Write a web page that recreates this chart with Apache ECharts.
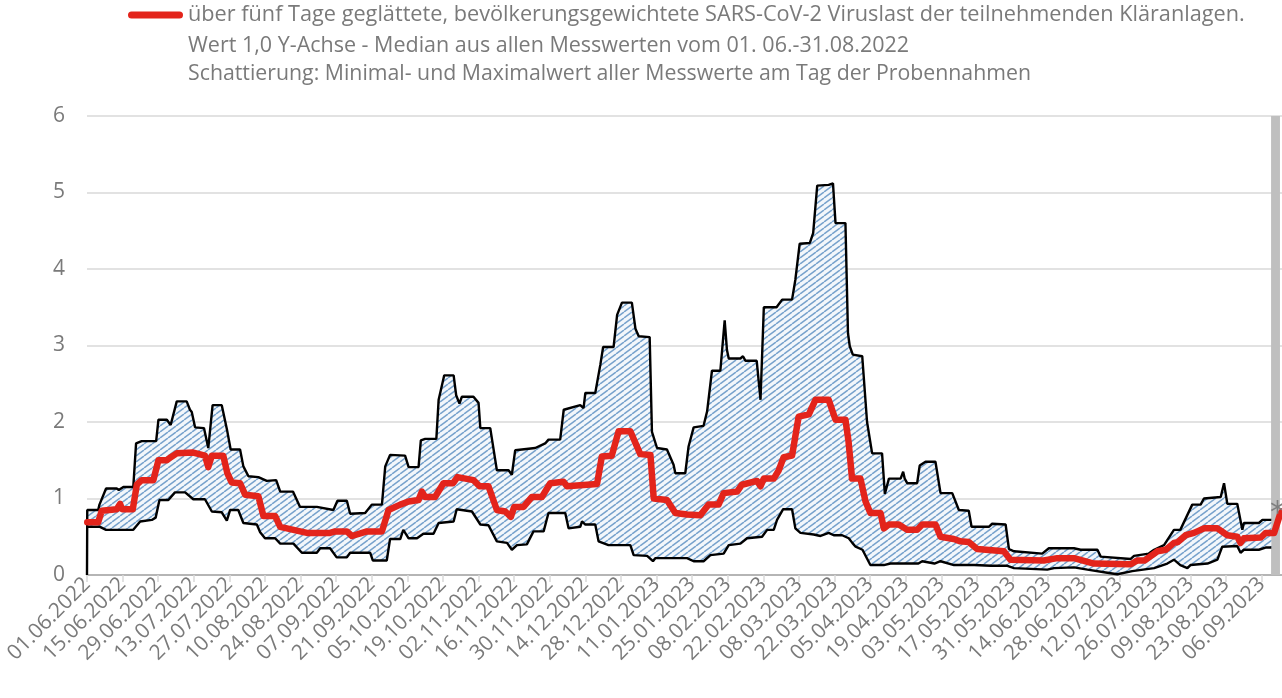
<!DOCTYPE html>
<html>
<head>
<meta charset="utf-8">
<script src="https://cdn.jsdelivr.net/npm/echarts@6/dist/echarts.min.js"></script>
<style>
  html, body { margin: 0; padding: 0; background: #ffffff; }
  #chart { width: 1282px; height: 698px; }
</style>
</head>
<body>
<div id="chart"></div>
<script>
// Legend text
const legendLines = [
  'über fünf Tage geglättete, bevölkerungsgewichtete SARS-CoV-2 Viruslast der teilnehmenden Kläranlagen.',
  'Wert 1,0 Y-Achse - Median aus allen Messwerten vom 01. 06.-31.08.2022',
  'Schattierung: Minimal- und Maximalwert aller Messwerte am Tag der Probennahmen'
];

// X tick labels, one every 14 days starting 01.06.2022 (x values are days since 01.06.2022)
const tickLabels = [
  '01.06.2022', '15.06.2022', '29.06.2022', '13.07.2022', '27.07.2022', '10.08.2022',
  '24.08.2022', '07.09.2022', '21.09.2022', '05.10.2022', '19.10.2022', '02.11.2022',
  '16.11.2022', '30.11.2022', '14.12.2022', '28.12.2022', '11.01.2023', '25.01.2023',
  '08.02.2023', '22.02.2023', '08.03.2023', '22.03.2023', '05.04.2023', '19.04.2023',
  '03.05.2023', '17.05.2023', '31.05.2023', '14.06.2023', '28.06.2023', '12.07.2023',
  '26.07.2023', '09.08.2023', '23.08.2023', '06.09.2023'
];
const tickStepDays = 14;
const lastDay = 470;

// Maximum of all measured values per sampling day: [day, value]
const maxVals = [
  [0,0],[0.1,0.85],[4.4,0.85],[4.9,0.92],[7.5,1.13],[11.7,1.13],[12.5,1.11],[14.3,1.15],[18.2,1.15],
  [19.3,1.72],[21.5,1.75],[27.2,1.75],[28.1,2.03],[31.4,2.03],[32.9,1.96],[35.3,2.27],[39.2,2.27],
  [40.5,2.16],[41.2,2.13],[42.5,1.93],[46,1.92],[47.7,1.66],[49.4,2.22],[53,2.22],[55,1.91],
  [56.5,1.64],[60.2,1.64],[61.5,1.42],[63.5,1.29],[67.4,1.28],[70.7,1.23],[74.4,1.24],[76,1.09],
  [81,1.09],[83.8,0.89],[90.4,0.89],[96.9,0.85],[98.5,0.97],[102.2,0.97],[103.5,0.80],[109.4,0.81],
  [112,0.92],[116,0.92],[117.3,1.42],[119.2,1.57],[125.1,1.56],[126.5,1.41],[130.4,1.41],[131.3,1.76],
  [133,1.78],[137.4,1.78],[138.3,2.29],[140.5,2.61],[144.2,2.61],[145.2,2.35],[146.5,2.24],[147.4,2.33],
  [152,2.33],[154,2.25],[154.7,1.92],[158.6,1.92],[161.2,1.37],[165.8,1.37],[167.1,1.31],[168.4,1.63],
  [176.3,1.66],[180.2,1.72],[181.5,1.77],[186.1,1.77],[187.5,2.16],[194,2.22],[195.3,2.18],[196,2.38],
  [199.9,2.38],[201.9,2.75],[203,2.98],[207.1,2.98],[208.5,3.40],[210.4,3.56],[214.3,3.56],[215.7,3.22],
  [217,3.12],[221.3,3.11],[222.2,1.87],[224.2,1.66],[228.1,1.64],[230.7,1.44],[231.4,1.33],[235.3,1.33],
  [236.6,1.68],[238.6,1.93],[242.5,1.95],[243.9,2.14],[245.8,2.67],[249.1,2.67],[250.8,3.33],[251.7,2.94],
  [252.4,2.83],[257,2.83],[258,2.86],[259,2.80],[263.4,2.80],[264.9,2.29],[265.5,2.29],[266.2,3.50],
  [271.2,3.50],[273.4,3.60],[277.3,3.60],[278.6,3.86],[280.3,4.33],[284.3,4.34],[285.6,4.47],[287.2,5.09],
  [291.7,5.10],[293.4,5.12],[294.4,4.60],[298.3,4.60],[299.3,3.16],[300,2.99],[301.2,2.88],[304.9,2.86],
  [306.8,2.00],[308.8,1.59],[312.7,1.59],[313.8,1.06],[315.4,1.26],[320,1.26],[321,1.35],[321.6,1.26],
  [322.6,1.20],[326.5,1.20],[327.5,1.43],[329.8,1.48],[333.7,1.48],[335.7,1.07],[340.3,1.07],[342.9,0.85],
  [346.8,0.84],[347.9,0.63],[354.7,0.63],[356,0.67],[361.3,0.66],[362.6,0.34],[364.6,0.31],[375.7,0.28],
  [378.3,0.35],[388.2,0.35],[390.8,0.33],[397.4,0.33],[398.7,0.24],[410.5,0.21],[411.8,0.25],[417.6,0.28],
  [419.7,0.33],[423.6,0.39],[427.5,0.59],[430,0.59],[434.7,0.92],[438,0.92],[439.3,1.00],[445.9,1.02],
  [447.2,1.20],[448.5,0.93],[452.4,0.93],[454.4,0.59],[455,0.68],[460.9,0.68],[462.3,0.72],[465.8,0.72]
];

// Minimum of all measured values per sampling day: [day, value]
const minVals = [
  [0.1,0.63],[5.1,0.63],[7.5,0.59],[18.2,0.59],[20.9,0.70],[25.5,0.72],[27,0.75],[28.5,0.98],[32,0.98],
  [34.6,1.08],[38.6,1.08],[41.8,0.99],[46.4,0.99],[49.1,0.83],[53,0.82],[55,0.71],[56.3,0.85],[59.5,0.85],
  [61.5,0.68],[66.8,0.66],[68.1,0.56],[70,0.48],[74,0.48],[76,0.41],[81.2,0.41],[84.5,0.29],[90.4,0.29],
  [91.7,0.35],[95.6,0.35],[98.2,0.23],[102.2,0.23],[103.5,0.29],[111.4,0.29],[112.4,0.19],[117.9,0.19],
  [119.2,0.47],[123.2,0.47],[124.4,0.59],[126.5,0.48],[129.8,0.48],[132.3,0.54],[136.3,0.54],[138.3,0.68],
  [144.2,0.70],[145.4,0.86],[151.4,0.83],[154.7,0.66],[157.9,0.65],[161.2,0.44],[165.2,0.42],[167.1,0.33],
  [169.1,0.39],[173,0.40],[175.6,0.57],[179.6,0.57],[181.5,0.81],[188.1,0.81],[189.4,0.61],[194,0.63],
  [194.7,0.70],[196,0.66],[199.9,0.66],[201.2,0.44],[205.1,0.39],[213.7,0.39],[215,0.26],[220.3,0.25],
  [222.6,0.18],[223.5,0.22],[236,0.22],[238.6,0.18],[242.5,0.18],[245.2,0.26],[250.4,0.28],[252.4,0.39],
  [257,0.41],[259.6,0.48],[265.5,0.50],[267.5,0.59],[270.1,0.59],[271.4,0.72],[273.8,0.86],[277.3,0.86],
  [278.6,0.61],[280.6,0.55],[285.8,0.53],[288.5,0.51],[291.7,0.55],[293.7,0.52],[297,0.52],[299.6,0.48],
  [301,0.42],[302.3,0.37],[305,0.33],[308.1,0.13],[313.4,0.13],[316,0.15],[327,0.15],[328.5,0.18],
  [333.3,0.15],[335.7,0.18],[341,0.13],[348.9,0.13],[355.5,0.12],[362,0.12],[364.6,0.09],[377.7,0.07],
  [380.3,0.09],[388.2,0.10],[393.5,0.07],[401.3,0.03],[405.2,0.01],[411.1,0.05],[419.7,0.09],[424.9,0.15],
  [427.5,0.20],[430,0.13],[432.8,0.09],[434,0.13],[440.7,0.15],[444.6,0.20],[446.5,0.37],[452.4,0.38],
  [453.7,0.29],[455,0.33],[460.9,0.33],[463.8,0.36],[465.8,0.36]
];

// Five-day smoothed, population-weighted viral load: [day, value]
const medVals = [
  [0.1,0.69],[4.4,0.69],[5.8,0.84],[11.7,0.86],[13,0.93],[13.8,0.86],[18,0.86],[19.6,1.18],[21.5,1.24],
  [26.1,1.24],[28.1,1.50],[31.4,1.50],[32.5,1.53],[35.3,1.59],[41.8,1.60],[46.4,1.56],[47.7,1.41],
  [49.1,1.56],[53.6,1.56],[55.2,1.33],[56.9,1.21],[60.2,1.20],[62.2,1.05],[67.4,1.03],[69.4,0.77],
  [74,0.77],[76,0.63],[81.2,0.59],[86.5,0.55],[95.6,0.55],[97.6,0.57],[102.2,0.57],[104.2,0.51],
  [110.1,0.57],[116,0.57],[118.6,0.85],[123.2,0.92],[126.5,0.96],[130.4,0.98],[131.7,1.09],[133,1.02],
  [136.9,1.02],[140.2,1.20],[144,1.20],[145.7,1.28],[152,1.24],[154.4,1.16],[157.9,1.16],[161.2,0.85],
  [164.5,0.83],[166.7,0.76],[168,0.89],[171.7,0.89],[175,1.02],[178.9,1.02],[182.2,1.20],[187.4,1.22],
  [188.8,1.16],[196.6,1.18],[200.6,1.19],[202.5,1.55],[206.4,1.56],[209.1,1.88],[213.7,1.88],[217.6,1.58],
  [221.6,1.57],[222.9,1.00],[228.1,0.98],[231.4,0.81],[236,0.79],[241.2,0.78],[244.5,0.92],[248.4,0.92],
  [250.4,1.07],[255.7,1.09],[257.6,1.18],[263.5,1.23],[264.9,1.16],[266.2,1.26],[270.1,1.26],[272.1,1.37],
  [274,1.54],[277.3,1.56],[279.9,2.07],[283.9,2.10],[286.5,2.29],[291.7,2.29],[294.4,2.03],[298.3,2.03],
  [299.5,1.75],[300.9,1.26],[304.2,1.26],[306.2,0.96],[308.1,0.81],[312.1,0.81],[313.4,0.61],[315.4,0.66],
  [319.3,0.66],[322.6,0.59],[326.5,0.59],[328.5,0.66],[333.7,0.66],[335.7,0.50],[340.9,0.47],[343.5,0.44],
  [346.8,0.43],[350.1,0.34],[360.6,0.31],[363.2,0.20],[376.3,0.19],[381.6,0.22],[388.2,0.22],[396,0.15],
  [410.5,0.14],[413.1,0.19],[416,0.19],[421,0.31],[424.3,0.33],[427.5,0.42],[429,0.43],[432.1,0.52],
  [435.4,0.55],[439.3,0.61],[444.6,0.61],[448.5,0.52],[452.4,0.50],[453.7,0.42],[455,0.48],[461.7,0.49],
  [463.6,0.55],[466.9,0.55],[469.2,0.79],[470,0.83]
];

// Latest, still incomplete period (grey band) and its marker
const pendingRange = [465.7, 469.2];
const pendingMark = [468.2, 0.80];

const FONT = '"Open Sans", Lato, sans-serif';
const GREY_TEXT = '#7a7a7a';

// Diagonal hatch used for the min–max band
function makeHatch() {
  const w = 8, h = 6;
  const c = document.createElement('canvas');
  c.width = w; c.height = h;
  const g = c.getContext('2d');
  g.fillStyle = '#f3f7fb';
  g.fillRect(0, 0, w, h);
  g.strokeStyle = '#77a2cc';
  g.lineWidth = 1.5;
  for (const dx of [-w, 0, w]) {
    g.beginPath();
    g.moveTo(dx, h);
    g.lineTo(dx + w, 0);
    g.stroke();
  }
  return c;
}
const hatch = makeHatch();

const chart = echarts.init(document.getElementById('chart'), null, { renderer: 'canvas' });

chart.setOption({
  animation: false,
  backgroundColor: '#ffffff',
  textStyle: { fontFamily: FONT },
  grid: {
    left: 87, right: 0, top: 116, bottom: 123,
    containLabel: false,
    outerBoundsMode: 'none'
  },
  legend: {
    data: [legendLines[0]],
    left: 128,
    top: 2,
    padding: 0,
    itemWidth: 55,
    itemHeight: 7,
    icon: 'path://M3.5,0H51.5A3.5,3.5,0,0,1,51.5,7H3.5A3.5,3.5,0,0,1,3.5,0Z',
    textStyle: { fontFamily: FONT, fontSize: 21.7, color: GREY_TEXT, lineHeight: 26 },
    selectedMode: false
  },
  graphic: [
    { type: 'text', left: 188, top: 35, style: { text: legendLines[1], fontFamily: FONT, fontSize: 21.5, fill: GREY_TEXT } },
    { type: 'text', left: 188, top: 63, style: { text: legendLines[2], fontFamily: FONT, fontSize: 21.3, fill: GREY_TEXT } }
  ],
  xAxis: {
    type: 'value',
    min: 0,
    max: lastDay,
    interval: tickStepDays,
    splitLine: { show: false },
    axisLine: { show: true, lineStyle: { color: '#a6a6a6', width: 1.5 } },
    axisTick: { show: true, length: 7, lineStyle: { color: '#d9d9d9', width: 1.5 } },
    axisLabel: {
      rotate: 45,
      margin: 6,
      fontFamily: FONT,
      fontSize: 21,
      color: GREY_TEXT,
      showMaxLabel: false,
      hideOverlap: false,
      formatter: v => (v % tickStepDays === 0 ? (tickLabels[v / tickStepDays] || '') : '')
    }
  },
  yAxis: {
    type: 'value',
    min: 0,
    max: 6,
    interval: 1,
    axisLine: { show: false },
    axisTick: { show: false },
    splitLine: { lineStyle: { color: '#d9d9d9', width: 1.5 } },
    axisLabel: { fontFamily: FONT, fontSize: 21, color: GREY_TEXT, margin: 22 }
  },
  series: [
    {
      name: 'Spannweite',
      type: 'custom',
      z: 1,
      silent: true,
      data: [[0, 0]],
      encode: { x: 0, y: 1 },
      renderItem: (params, api) => {
        const pts = maxVals.map(p => api.coord(p))
          .concat(minVals.slice().reverse().map(p => api.coord(p)));
        return {
          type: 'polygon',
          shape: { points: pts },
          style: { fill: { image: hatch, repeat: 'repeat' }, stroke: null }
        };
      },
      markArea: {
        silent: true,
        itemStyle: { color: '#bfbfbf', opacity: 1 },
        data: [[{ xAxis: pendingRange[0], yAxis: 0 }, { xAxis: pendingRange[1], yAxis: 6 }]]
      }
    },
    {
      name: 'Maximum',
      type: 'line',
      z: 2,
      data: maxVals,
      showSymbol: false,
      silent: true,
      lineStyle: { color: '#000000', width: 2.4 },
      itemStyle: { color: '#000000' }
    },
    {
      name: 'Minimum',
      type: 'line',
      z: 2,
      data: minVals,
      showSymbol: false,
      silent: true,
      lineStyle: { color: '#000000', width: 2.4 },
      itemStyle: { color: '#000000' }
    },
    {
      name: legendLines[0],
      type: 'line',
      z: 3,
      data: medVals,
      showSymbol: false,
      silent: true,
      lineStyle: { color: '#e3241b', width: 6.5, cap: 'round', join: 'round' },
      itemStyle: { color: '#e3241b' },
      markPoint: {
        silent: true,
        symbol: 'circle',
        symbolSize: 1,
        itemStyle: { color: 'rgba(0,0,0,0)' },
        label: { show: true, position: 'inside', formatter: '*', color: '#7f7f7f', fontSize: 30, fontFamily: 'DejaVu Sans' },
        data: [{ coord: pendingMark }]
      }
    }
  ]
});
</script>
</body>
</html>
